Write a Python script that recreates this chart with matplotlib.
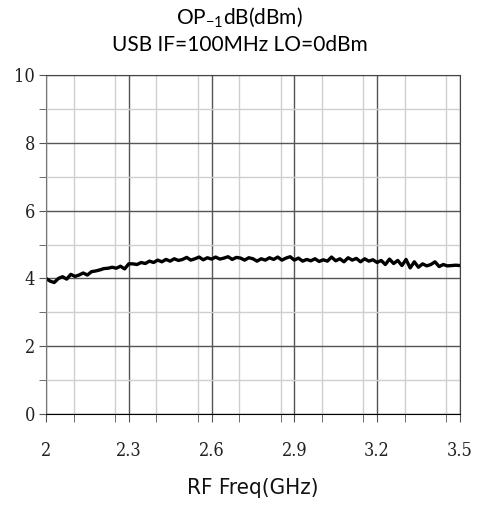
import numpy as np
import matplotlib
matplotlib.use("Agg")
import matplotlib.pyplot as plt
from matplotlib.ticker import MultipleLocator

# RF frequency (GHz) and output P-1dB (dBm)
freq = np.linspace(2.0, 3.5, 101)
op1db = [4.00, 3.92, 3.88, 4.00, 4.05, 3.98, 4.12, 4.06, 4.10, 4.16,
         4.10, 4.20, 4.22, 4.25, 4.29, 4.30, 4.33, 4.30, 4.36, 4.28,
         4.43, 4.43, 4.41, 4.47, 4.44, 4.51, 4.47, 4.54, 4.49, 4.56,
         4.51, 4.58, 4.53, 4.56, 4.62, 4.54, 4.58, 4.63, 4.55, 4.61,
         4.57, 4.63, 4.57, 4.60, 4.64, 4.56, 4.62, 4.60, 4.54, 4.61,
         4.58, 4.51, 4.58, 4.54, 4.61, 4.56, 4.63, 4.54, 4.60, 4.64,
         4.54, 4.60, 4.51, 4.56, 4.52, 4.58, 4.50, 4.55, 4.51, 4.63,
         4.52, 4.58, 4.49, 4.61, 4.54, 4.59, 4.49, 4.58, 4.51, 4.55,
         4.47, 4.53, 4.41, 4.57, 4.44, 4.53, 4.38, 4.56, 4.31, 4.49,
         4.33, 4.43, 4.37, 4.41, 4.49, 4.35, 4.41, 4.37, 4.38, 4.39,
         4.38]

xticks = [2, 2.3, 2.6, 2.9, 3.2, 3.5]
xticklabels = ["2", "2.3", "2.6", "2.9", "3.2", "3.5"]
yticks = [0, 2, 4, 6, 8, 10]

tick_font = dict(family="DejaVu Serif", stretch="condensed", size=13, color="#222222")

fig = plt.figure(figsize=(4.79, 5.09), dpi=100)
ax = fig.add_axes([0.096, 0.1866, 0.864, 0.666])

ax.plot(freq, op1db, color="black", lw=2.4)

ax.set_xlim(2, 3.5)
ax.set_ylim(0, 10)
ax.set_xticks(xticks)
ax.set_xticklabels(xticklabels, **tick_font)
ax.set_yticks(yticks)
ax.set_yticklabels([str(v) for v in yticks], **tick_font)
ax.xaxis.set_minor_locator(MultipleLocator(0.15))
ax.yaxis.set_minor_locator(MultipleLocator(1))

ax.grid(which="major", color="#555555", lw=1.0)
ax.grid(which="minor", color="#cfcfcf", lw=1.0)
ax.set_axisbelow(True)
ax.tick_params(axis="x", which="both", direction="out", length=6, color="#555555", pad=14)
ax.tick_params(axis="y", which="both", direction="out", length=5, color="#555555", pad=3)
for s in ax.spines.values():
    s.set_color("#444444")
ax.spines["left"].set_color("#777777")
ax.spines["bottom"].set_color("black")

ax.set_xlabel("RF Freq(GHz)", family="DejaVu Sans", stretch="condensed", fontsize=16,
              color="#111111", labelpad=13)
fig.text(0.5, 0.965, r"OP$_{\mathregular{-1}}$dB(dBm)", ha="center", va="center",
         fontfamily="Lato", fontsize=15)
fig.text(0.5, 0.912, "USB IF=100MHz LO=0dBm", ha="center", va="center",
         fontfamily="Lato", fontsize=15)

fig.savefig("out.png", dpi=100)
